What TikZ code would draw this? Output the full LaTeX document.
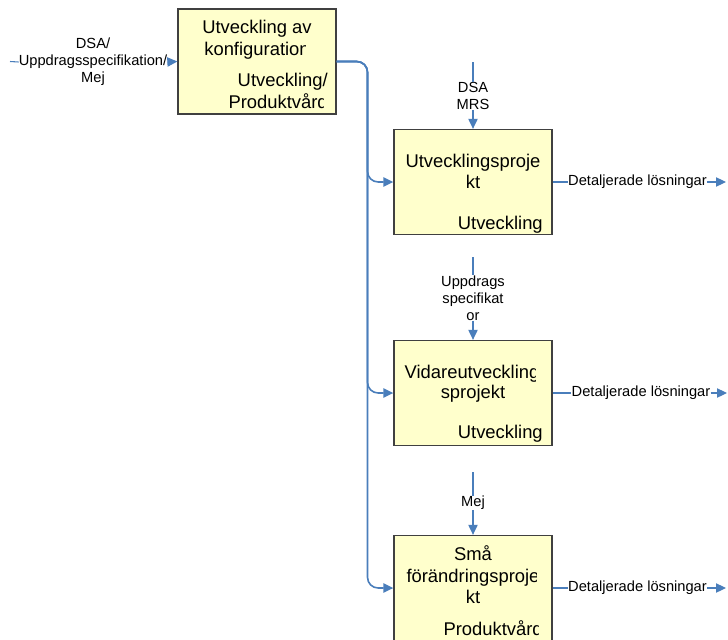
\documentclass[tikz,border=0pt]{standalone}
\usepackage{fontspec}
\setmainfont{Liberation Sans}
\usetikzlibrary{arrows.meta}
\definecolor{flow}{HTML}{4A7EBB}
\definecolor{boxfill}{HTML}{FFFFCC}
\definecolor{boxline}{HTML}{404040}
\begin{document}
\begin{tikzpicture}[x=0.75pt,y=-0.75pt,
  proc/.style={draw=boxline, line width=1pt, fill=boxfill,
    minimum width=118.5pt, minimum height=78.75pt, inner sep=0pt},
  big/.style={font=\fontsize{13.8}{15.8}\selectfont, inner sep=0pt, anchor=base},
  bigright/.style={big, anchor=base east},
  small/.style={font=\fontsize{11}{12.75}\selectfont, inner sep=0pt, align=center},
  feed/.style={draw=flow, line width=0.8pt},
  tip/.style={-{Triangle[length=7.5pt,width=7pt]}},
  trunk/.style={draw=flow, line width=1.2pt, rounded corners=8pt,
    -{Triangle[length=7.5pt,width=7pt]}},
]
\useasboundingbox (0,0) rectangle (728,639);

% process boxes
\node[proc] (b1) at (257,61.5) {};
\node[proc] (b2) at (473,182) {};
\node[proc] (b3) at (473,393) {};
\node[proc] (b4) at (473,588) {};

% texts inside the boxes (long words are cut off at the text area)
\node[big] (b1a) at (257,33) {Utveckling av};
\begin{scope}
  \clip (178,9) rectangle (305,114);
  \node[big] (b1b) at (257,55) {konfiguration};
\end{scope}
\node[bigright] (b1c) at (328,86) {Utveckling/};
\begin{scope}
  \clip (178,9) rectangle (323.5,114);
  \node[bigright] (b1d) at (328,108) {Produktvård};
\end{scope}

\node[big] (b2a) at (473,167) {Utvecklingsproje};
\node[big] (b2b) at (473,188) {kt};
\node[bigright] (b2c) at (543,229) {Utveckling};

\begin{scope}
  \clip (394,340) rectangle (535,446);
  \node[big] (b3a) at (472,378) {Vidareutveckling};
\end{scope}
\node[big] (b3b) at (473,398) {sprojekt};
\node[bigright] (b3c) at (543,438) {Utveckling};

\node[big] (b4a) at (473,560) {Små};
\begin{scope}
  \clip (394,535) rectangle (536,641);
  \node[big] (b4b) at (473,582) {förändringsproje};
\end{scope}
\node[big] (b4c) at (473,603) {kt};
\begin{scope}
  \clip (394,535) rectangle (538.5,641);
  \node[bigright] (b4d) at (543,635) {Produktvård};
\end{scope}

% free ends of the connectors
\coordinate (s1) at (10,61.5);
\coordinate (s2) at (473,62);
\coordinate (s3) at (473,257);
\coordinate (s4) at (473,472);
\coordinate (e2) at (726,182);
\coordinate (e3) at (727,393);
\coordinate (e4) at (726,588);
\coordinate (bus) at (367.5,0);

% connector labels
\node[small] (l1) at (93,62) {DSA/\\Uppdragsspecifikation/\\Mej};
\node[small] (l2) at (473,96) {DSA\\MRS};
\node[small] (l3) at (473,298) {Uppdrags\\specifikat\\or};
\node[small] (l4) at (473,503) {Mej};
\node[small] (o2) at (637.5,182) {Detaljerade lösningar};
\node[small] (o3) at (641,393) {Detaljerade lösningar};
\node[small] (o4) at (637.5,588) {Detaljerade lösningar};

% inputs
\draw[feed] (s1) -- (l1.west);
\draw[feed, tip] (l1.east) -- (b1.west);
\draw[feed] (s2) -- (l2.north);
\draw[feed, tip] (l2.south) -- (b2.north);
\draw[feed] (s3) -- (l3.north);
\draw[feed, tip] (l3.south) -- (b3.north);
\draw[feed] (s4) -- (l4.north);
\draw[feed, tip] (l4.south) -- (b4.north);

% outputs
\draw[feed] (b2.east) -- (o2.west);
\draw[feed, tip] (o2.east) -- (e2);
\draw[feed] (b3.east) -- (o3.west);
\draw[feed, tip] (o3.east) -- (e3);
\draw[feed] (b4.east) -- (o4.west);
\draw[feed, tip] (o4.east) -- (e4);

% distribution from the first box to the projects
\draw[trunk] (b1.east) -- (b1.east -| bus) |- (b2.west);
\draw[trunk] (b1.east) -- (b1.east -| bus) |- (b3.west);
\draw[trunk] (b1.east) -- (b1.east -| bus) |- (b4.west);
\end{tikzpicture}
\end{document}
